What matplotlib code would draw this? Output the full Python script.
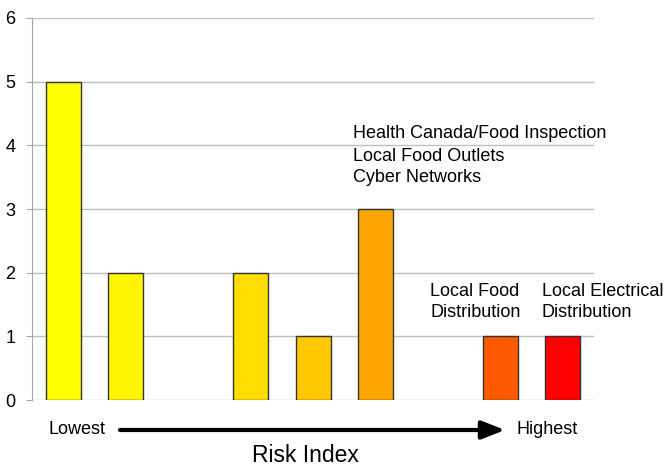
import matplotlib.pyplot as plt

plt.rcParams['font.family'] = ['Liberation Sans', 'DejaVu Sans']

# risk index slots, lowest to highest
slots = list(range(9))
counts = [5, 2, 0, 2, 1, 3, 0, 1, 1]
colors = ['#FFFF00', '#FFF500', '#FFEE00', '#FFDD00', '#FFC800',
          '#FFA500', '#FF8000', '#FF5A00', '#FF0000']

fig = plt.figure(figsize=(6.66, 4.66), dpi=100)
ax = fig.add_axes([0.048, 0.1416, 0.844, 0.8198])

edge_w = [1 if c > 0 else 0 for c in counts]
ax.bar(slots, counts, width=0.56, color=colors, edgecolor='#333333', linewidth=edge_w, zorder=3)

ax.set_xlim(-0.5, 8.5)
ax.set_ylim(0, 6)
ax.set_yticks(range(7))
ax.set_xticks([])
ax.grid(axis='y', color='#BFBFBF', linewidth=1, zorder=0)
for s in ['top', 'right', 'bottom']:
    ax.spines[s].set_visible(False)
ax.spines['left'].set_color('#A6A6A6')
ax.tick_params(axis='y', length=4, color='#A6A6A6', labelsize=13, pad=8)

# labels over bars
fs = 13
ax.text(4.64, 4.19, 'Health Canada/Food Inspection', fontsize=fs, va='center')
ax.text(4.64, 3.83, 'Local Food Outlets', fontsize=fs, va='center')
ax.text(4.64, 3.49, 'Cyber Networks', fontsize=fs, va='center')
ax.text(5.88, 1.70, 'Local Food', fontsize=fs, va='center')
ax.text(5.88, 1.37, 'Distribution', fontsize=fs, va='center')
ax.text(7.66, 1.70, 'Local Electrical', fontsize=fs, va='center')
ax.text(7.66, 1.37, 'Distribution', fontsize=fs, va='center')

# risk direction arrow below the axis
fig.text(48 / 666, 1 - 430 / 466, 'Lowest', fontsize=13, va='center')
fig.text(517 / 666, 1 - 430 / 466, 'Highest', fontsize=13, va='center')
ax.annotate('', xy=(505 / 666, 1 - 430 / 466), xytext=(120 / 666, 1 - 430 / 466),
            xycoords='figure fraction',
            arrowprops=dict(arrowstyle='-|>,head_length=1.4,head_width=0.55',
                            color='black', lw=3, shrinkA=0, shrinkB=0))
fig.text(305 / 666, 1 - 456 / 466, 'Risk Index', fontsize=16.5, ha='center', va='center')

plt.savefig('out.png')
